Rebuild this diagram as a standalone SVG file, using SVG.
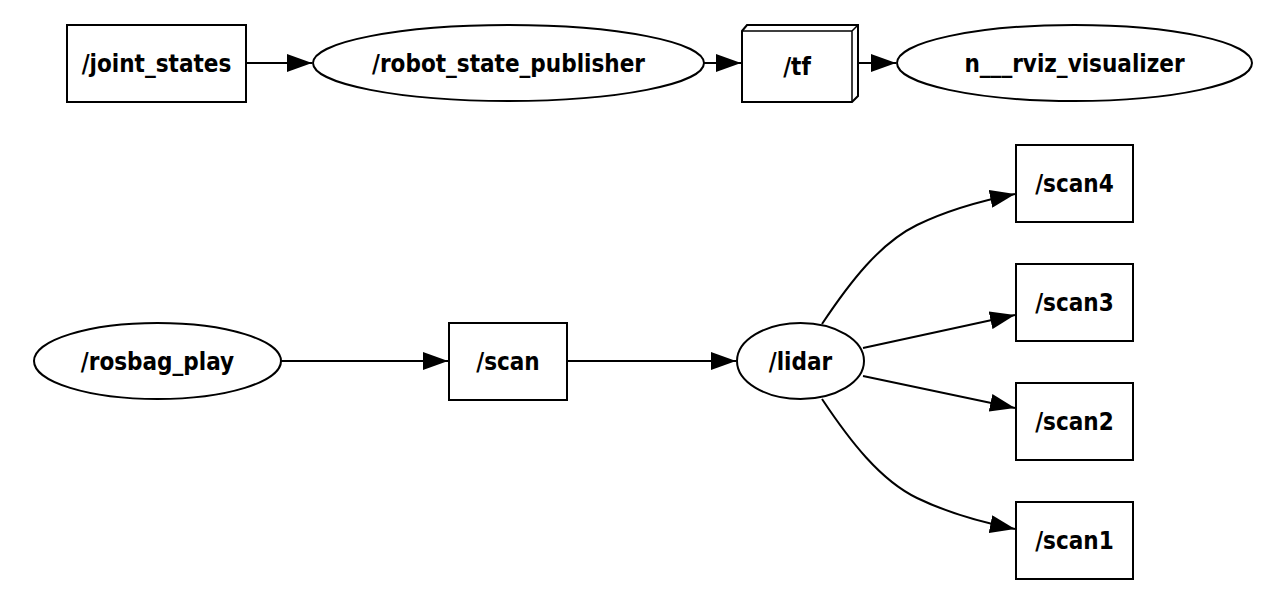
<svg xmlns="http://www.w3.org/2000/svg" width="1264" height="599" viewBox="0 0 1264 599">
<defs>
<marker id="arr" markerUnits="userSpaceOnUse" markerWidth="26" markerHeight="18" refX="25" refY="9" orient="auto">
<path d="M0,0 L25,9 L0,18 z" fill="#000"/>
</marker>
<style>
.n{fill:#fff;stroke:#000;stroke-width:2}
.t{font-family:"DejaVu Sans Condensed","DejaVu Sans",sans-serif;font-weight:bold;font-size:24px;text-anchor:middle;fill:#000}
.e{fill:none;stroke:#000;stroke-width:2;marker-end:url(#arr)}
</style>
</defs>
<rect width="1264" height="599" fill="#fff"/>
<g id="connectors">
<path class="e" d="M246,63 L312,63"/>
<path class="e" d="M704,63 L741,63"/>
<path class="e" d="M857,63 L896,63"/>
<path class="e" d="M281,361 L448,361"/>
<path class="e" d="M567,361 L736,361"/>
<path class="e" d="M822,324 C850,282 880,243 917,225 C950,209 985,200 1015,194"/>
<path class="e" d="M863,348 L1015,315"/>
<path class="e" d="M863,376 L1015,408"/>
<path class="e" d="M822,399 C850,441 880,480 917,498 C950,514 985,523 1015,529"/>
</g>
<g id="joint_states">
<rect class="n" x="67" y="25" width="179" height="77"/>
<text class="t" x="156.5" y="72">/joint_states</text>
</g>
<g id="robot_state_publisher">
<ellipse class="n" cx="508.5" cy="63" rx="195.5" ry="38"/>
<text class="t" x="508.5" y="72">/robot_state_publisher</text>
</g>
<g id="tf">
<path class="n" d="M742,31 L747,25 L858,25 L858,96 L852,102 L742,102 Z"/>
<path fill="none" stroke="#000" stroke-width="1.5" d="M742,31 L852,31 L852,102 M852,31 L858,25"/>
<text class="t" x="797" y="75">/tf</text>
</g>
<g id="rviz">
<ellipse class="n" cx="1074.5" cy="63" rx="177.5" ry="38"/>
<text class="t" x="1074.5" y="72">n___rviz_visualizer</text>
</g>
<g id="rosbag_play">
<ellipse class="n" cx="157.5" cy="361" rx="123.5" ry="38"/>
<text class="t" x="157.5" y="370">/rosbag_play</text>
</g>
<g id="scan">
<rect class="n" x="449" y="323" width="118" height="77"/>
<text class="t" x="508" y="370">/scan</text>
</g>
<g id="lidar">
<ellipse class="n" cx="800.5" cy="361" rx="63.5" ry="38"/>
<text class="t" x="800.5" y="370">/lidar</text>
</g>
<g id="scan4">
<rect class="n" x="1016" y="145" width="117" height="77"/>
<text class="t" x="1074.5" y="192">/scan4</text>
</g>
<g id="scan3">
<rect class="n" x="1016" y="264" width="117" height="77"/>
<text class="t" x="1074.5" y="311">/scan3</text>
</g>
<g id="scan2">
<rect class="n" x="1016" y="383" width="117" height="77"/>
<text class="t" x="1074.5" y="430">/scan2</text>
</g>
<g id="scan1">
<rect class="n" x="1016" y="502" width="117" height="77"/>
<text class="t" x="1074.5" y="549">/scan1</text>
</g>
</svg>
